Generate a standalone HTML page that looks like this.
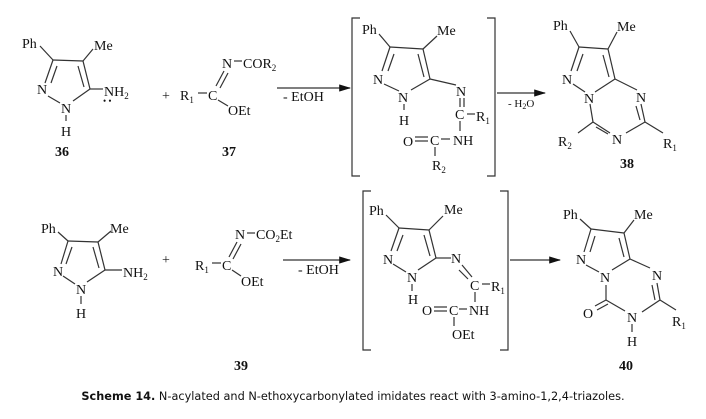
<!DOCTYPE html>
<html><head><meta charset="utf-8"><style>
html,body{margin:0;padding:0;background:#fff;width:706px;height:419px;overflow:hidden}
svg text{font-family:"Liberation Serif",serif;font-size:14px;fill:#111}
.b{font-weight:bold}
.s{font-size:9px}
line,polyline,path{stroke:#333;stroke-width:1.2;fill:none}
.cap{font-family:"DejaVu Sans",sans-serif;font-size:11.3px}
</style></head><body>
<svg width="706" height="419" viewBox="0 0 706 419">
<defs><marker id="ar" markerWidth="10" markerHeight="6" refX="9" refY="3" orient="auto"><path d="M0,0 L10,3 L0,6 z" style="fill:#111;stroke:none"/></marker></defs>

<!-- 36 -->
<text x="22" y="48">Ph</text><text x="94" y="50">Me</text>
<line x1="40" y1="46" x2="53" y2="60"/><line x1="83" y1="61" x2="93" y2="49"/>
<line x1="53" y1="60" x2="83" y2="61"/><line x1="83" y1="61" x2="90" y2="89"/><line x1="78" y1="66" x2="84" y2="87"/>
<line x1="53" y1="60" x2="45" y2="83"/><line x1="57" y1="66" x2="51" y2="83"/>
<line x1="90" y1="89" x2="73" y2="101"/><line x1="48" y1="96" x2="60" y2="103"/>
<line x1="90" y1="89" x2="103" y2="89"/>
<text x="37" y="94">N</text><text x="61" y="113">N</text><line x1="66" y1="115" x2="66" y2="121"/><text x="61" y="136">H</text>
<text x="104" y="96">NH<tspan class="s" dy="3">2</tspan></text>
<text x="103" y="104" style="font-size:9px">• •</text>
<text x="55" y="156" class="b">36</text>
<!-- 37 -->
<text x="162" y="100">+</text>
<text x="180" y="100">R<tspan class="s" dy="3">1</tspan></text><line x1="198" y1="93" x2="207" y2="93"/><text x="208" y="100">C</text>
<text x="222" y="68">N</text><line x1="234" y1="61" x2="242" y2="61"/><text x="243" y="68">COR<tspan class="s" dy="3">2</tspan></text>
<line x1="216" y1="86" x2="224" y2="71"/><line x1="220" y1="88" x2="228" y2="73"/>
<line x1="218" y1="100" x2="228" y2="106"/><text x="228" y="115">OEt</text>
<text x="222" y="156" class="b">37</text>
<line x1="277" y1="88" x2="350" y2="88" marker-end="url(#ar)"/>
<text x="283" y="101">- EtOH</text>
<!-- bracket 1 -->
<polyline points="360,18 352,18 352,176 360,176"/><polyline points="487,18 495,18 495,176 487,176"/>
<text x="362" y="34">Ph</text><text x="437" y="35">Me</text>
<line x1="379" y1="34" x2="390" y2="47"/><line x1="423" y1="49" x2="437" y2="36"/>
<line x1="390" y1="47" x2="423" y2="49"/><line x1="423" y1="49" x2="430" y2="79"/><line x1="418" y1="54" x2="424" y2="77"/>
<line x1="390" y1="47" x2="382" y2="71"/><line x1="394" y1="54" x2="388" y2="71"/>
<line x1="430" y1="79" x2="411" y2="90"/><line x1="384" y1="84" x2="399" y2="91"/>
<line x1="430" y1="79" x2="456" y2="85"/>
<text x="373" y="84">N</text><text x="398" y="102">N</text><line x1="404" y1="104" x2="404" y2="110"/><text x="399" y="125">H</text>
<text x="456" y="96">N</text><line x1="460" y1="98" x2="460" y2="107"/><line x1="464" y1="98" x2="464" y2="107"/>
<text x="455" y="119">C</text><line x1="467" y1="114" x2="475" y2="114"/><text x="476" y="121">R<tspan class="s" dy="3">1</tspan></text>
<line x1="460" y1="121" x2="460" y2="131"/>
<text x="453" y="145">NH</text><line x1="441" y1="139" x2="450" y2="139"/>
<text x="430" y="145">C</text><line x1="415" y1="137" x2="428" y2="137"/><line x1="415" y1="141" x2="428" y2="141"/>
<text x="403" y="146">O</text><line x1="435" y1="147" x2="435" y2="156"/>
<text x="432" y="170">R<tspan class="s" dy="3">2</tspan></text>
<line x1="497" y1="93" x2="545" y2="93" marker-end="url(#ar)"/>
<text x="508" y="107" style="font-size:11px">- H<tspan style="font-size:8px" dy="2">2</tspan><tspan dy="-2">O</tspan></text>
<!-- 38 -->
<text x="553" y="30">Ph</text><text x="617" y="31">Me</text>
<line x1="570" y1="31" x2="579" y2="47"/><line x1="608" y1="49" x2="617" y2="32"/>
<line x1="579" y1="47" x2="608" y2="49"/><line x1="608" y1="49" x2="615" y2="79"/><line x1="603" y1="55" x2="609" y2="77"/>
<line x1="579" y1="47" x2="571" y2="71"/><line x1="583" y1="54" x2="577" y2="71"/>
<line x1="615" y1="79" x2="595" y2="92"/><line x1="573" y1="84" x2="585" y2="92"/>
<line x1="615" y1="79" x2="637" y2="90"/>
<text x="562" y="84">N</text><text x="584" y="103">N</text>
<text x="636" y="102">N</text><line x1="641" y1="104" x2="645" y2="122"/><line x1="636" y1="106" x2="640" y2="120"/>
<line x1="645" y1="122" x2="626" y2="133"/><line x1="645" y1="122" x2="663" y2="133"/>
<line x1="590" y1="104" x2="593" y2="122"/><line x1="593" y1="122" x2="610" y2="133"/><line x1="596" y1="127" x2="608" y2="134"/>
<line x1="593" y1="122" x2="578" y2="133"/>
<text x="612" y="144">N</text><text x="558" y="146">R<tspan class="s" dy="3">2</tspan></text><text x="663" y="148">R<tspan class="s" dy="3">1</tspan></text>
<text x="620" y="168" class="b">38</text>

<!-- bottom 36 analog -->
<text x="41" y="233">Ph</text><text x="110" y="233">Me</text>
<line x1="58" y1="232" x2="68" y2="241"/><line x1="98" y1="242" x2="111" y2="231"/>
<line x1="68" y1="241" x2="98" y2="242"/><line x1="98" y1="242" x2="105" y2="270"/><line x1="93" y1="247" x2="99" y2="268"/>
<line x1="68" y1="241" x2="61" y2="264"/><line x1="72" y1="247" x2="66" y2="264"/>
<line x1="105" y1="270" x2="87" y2="282"/><line x1="63" y1="276" x2="75" y2="284"/>
<line x1="105" y1="270" x2="122" y2="270"/>
<text x="53" y="276">N</text><text x="76" y="294">N</text><line x1="81" y1="296" x2="81" y2="304"/><text x="76" y="318">H</text>
<text x="123" y="277">NH<tspan class="s" dy="3">2</tspan></text>
<text x="162" y="264">+</text>
<text x="195" y="270">R<tspan class="s" dy="3">1</tspan></text><line x1="212" y1="263" x2="221" y2="263"/><text x="222" y="270">C</text>
<text x="235" y="239">N</text><line x1="247" y1="233" x2="255" y2="233"/><text x="256" y="239">CO<tspan class="s" dy="3">2</tspan><tspan dy="-3">Et</tspan></text>
<line x1="229" y1="257" x2="237" y2="242"/><line x1="233" y1="259" x2="241" y2="244"/>
<line x1="232" y1="270" x2="241" y2="276"/><text x="241" y="286">OEt</text>
<text x="234" y="370" class="b">39</text>
<line x1="283" y1="260" x2="350" y2="260" marker-end="url(#ar)"/>
<text x="298" y="274">- EtOH</text>
<!-- bracket 2 -->
<polyline points="371,191 363,191 363,350 371,350"/><polyline points="500,191 508,191 508,350 500,350"/>
<text x="369" y="215">Ph</text><text x="444" y="214">Me</text>
<line x1="386" y1="215" x2="399" y2="228"/><line x1="429" y1="230" x2="443" y2="216"/>
<line x1="399" y1="228" x2="429" y2="230"/><line x1="429" y1="230" x2="436" y2="258"/><line x1="424" y1="235" x2="430" y2="256"/>
<line x1="399" y1="228" x2="391" y2="251"/><line x1="403" y1="235" x2="397" y2="251"/>
<line x1="436" y1="258" x2="418" y2="270"/><line x1="393" y1="264" x2="406" y2="272"/>
<line x1="436" y1="258" x2="451" y2="258"/>
<text x="383" y="264">N</text><text x="407" y="282">N</text><line x1="412" y1="284" x2="412" y2="291"/><text x="408" y="304">H</text>
<text x="451" y="263">N</text><line x1="462" y1="265" x2="472" y2="277"/><line x1="459" y1="270" x2="468" y2="279"/>
<text x="470" y="290">C</text><line x1="482" y1="284" x2="490" y2="284"/><text x="491" y="291">R<tspan class="s" dy="3">1</tspan></text>
<line x1="475" y1="292" x2="475" y2="302"/>
<text x="469" y="315">NH</text><line x1="459" y1="309" x2="467" y2="309"/>
<text x="449" y="315">C</text><line x1="434" y1="307" x2="447" y2="307"/><line x1="434" y1="311" x2="447" y2="311"/>
<text x="422" y="315">O</text><line x1="454" y1="317" x2="454" y2="326"/>
<text x="452" y="339">OEt</text>
<line x1="510" y1="260" x2="560" y2="260" marker-end="url(#ar)"/>
<!-- 40 -->
<text x="563" y="219">Ph</text><text x="634" y="219">Me</text>
<line x1="580" y1="219" x2="591" y2="229"/><line x1="624" y1="233" x2="634" y2="220"/>
<line x1="591" y1="229" x2="624" y2="233"/><line x1="624" y1="233" x2="630" y2="259"/><line x1="619" y1="238" x2="624" y2="257"/>
<line x1="591" y1="229" x2="584" y2="252"/><line x1="595" y1="236" x2="590" y2="252"/>
<line x1="630" y1="259" x2="612" y2="270"/><line x1="586" y1="265" x2="599" y2="272"/>
<line x1="630" y1="259" x2="650" y2="268"/>
<text x="576" y="264">N</text><text x="600" y="282">N</text>
<text x="652" y="280">N</text><line x1="657" y1="283" x2="660" y2="300"/><line x1="652" y1="285" x2="655" y2="300"/>
<line x1="660" y1="300" x2="642" y2="312"/><line x1="660" y1="300" x2="676" y2="310"/>
<line x1="606" y1="285" x2="606" y2="300"/><line x1="606" y1="300" x2="625" y2="311"/>
<line x1="606" y1="300" x2="595" y2="306"/><line x1="608" y1="304" x2="597" y2="310"/>
<text x="583" y="318">O</text>
<text x="627" y="322">N</text><line x1="632" y1="324" x2="632" y2="332"/><text x="627" y="346">H</text>
<text x="672" y="326">R<tspan class="s" dy="3">1</tspan></text>
<text x="619" y="370" class="b">40</text>

<text x="353" y="400" text-anchor="middle" class="cap"><tspan font-weight="bold">Scheme 14.</tspan> N-acylated and N-ethoxycarbonylated imidates react with 3-amino-1,2,4-triazoles.</text>
</svg>
</body></html>
